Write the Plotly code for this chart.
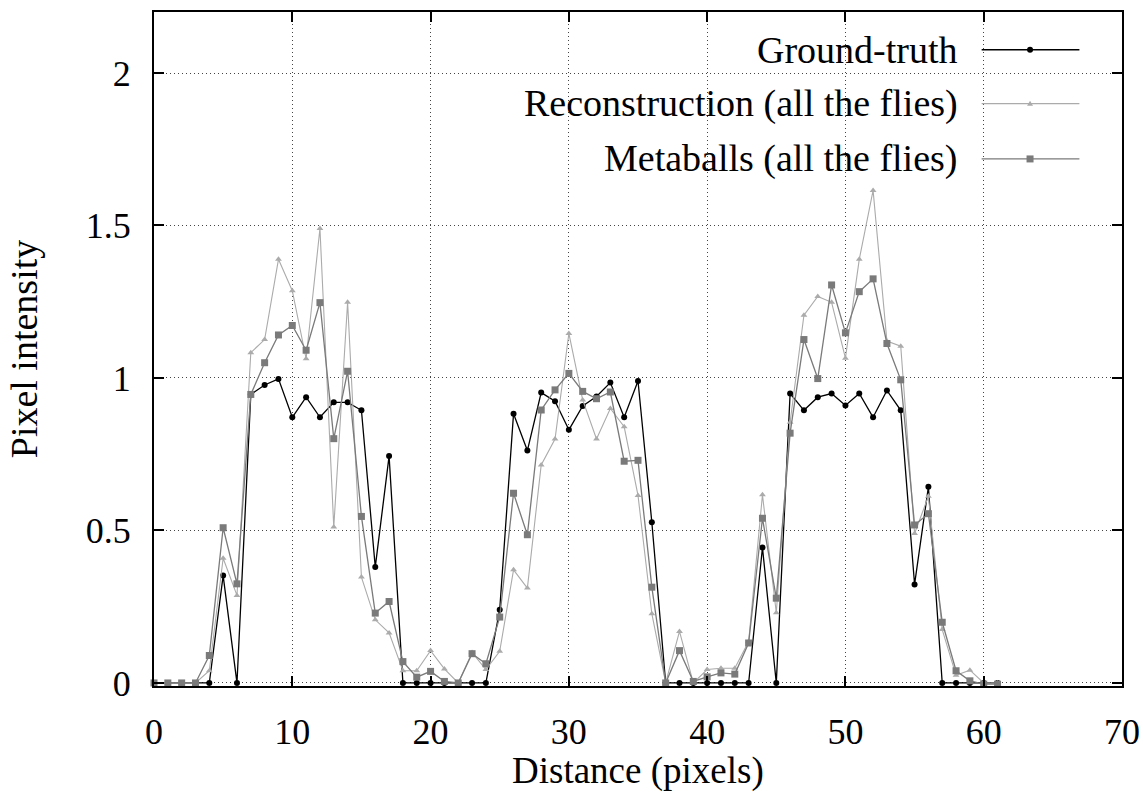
import plotly.graph_objects as go

# ---- data ----
distance = list(range(62))

ground_truth = [0, 0, 0, 0, 0, 0.352, 0,
                0.946, 0.977, 0.997, 0.871, 0.937, 0.871, 0.92, 0.92, 0.894, 0.38, 0.744,
                0, 0, 0, 0, 0, 0, 0,
                0.24, 0.883, 0.762, 0.952, 0.924, 0.83, 0.908, 0.939, 0.985, 0.871, 0.99, 0.527,
                0, 0, 0, 0, 0, 0, 0,
                0.444, 0,
                0.949, 0.894, 0.937, 0.949, 0.91, 0.949, 0.871, 0.959, 0.894, 0.323, 0.643,
                0, 0, 0, 0, 0]

reconstruction = [0, 0, 0, 0, 0.04, 0.409, 0.287, 1.083, 1.126, 1.389,
                  1.286, 1.063, 1.49, 0.511, 1.248, 0.347, 0.207, 0.164, 0.04, 0.04,
                  0.106, 0.046, 0, 0.1, 0.044, 0.104, 0.371, 0.311, 0.715, 0.8,
                  1.146, 0.928, 0.8, 0.9, 0.84, 0.615, 0.227, 0, 0.169, 0,
                  0.044, 0.048, 0.048, 0.136, 0.617, 0.23, 0.855, 1.206, 1.267, 1.248,
                  1.065, 1.389, 1.615, 1.121, 1.104, 0.49, 0.612, 0.175, 0.025, 0.042,
                  0, 0]

metaballs = [0, 0, 0, 0, 0.09, 0.509, 0.325, 0.946, 1.05, 1.141,
             1.172, 1.091, 1.247, 0.801, 1.022, 0.546, 0.229, 0.267, 0.07, 0.019,
             0.038, 0.005, 0, 0.096, 0.063, 0.216, 0.622, 0.486, 0.895, 0.961,
             1.015, 0.956, 0.932, 0.954, 0.727, 0.73, 0.314, 0, 0.106, 0.005,
             0.02, 0.033, 0.029, 0.131, 0.54, 0.278, 0.819, 1.126, 0.998, 1.305,
             1.148, 1.283, 1.325, 1.113, 0.994, 0.518, 0.555, 0.199, 0.04, 0.007,
             -0.004, -0.004]

series_names = ["Ground-truth", "Reconstruction (all the flies)", "Metaballs (all the flies)"]
x_title = "Distance (pixels)"
y_title = "Pixel intensity"
x_ticks = [0, 10, 20, 30, 40, 50, 60, 70]
y_ticks = [0, 0.5, 1, 1.5, 2]
y_tick_text = ["0", "0.5", "1", "1.5", "2"]

# ---- styles ----
FONT = "Liberation Serif"
FS = 38
TICK_FS = 36
XT_FS = 37
GT_COLOR = "#000000"
REC_COLOR = "#ababab"
MB_COLOR = "#7a7a7a"

fig = go.Figure()
fig.add_trace(go.Scatter(x=distance, y=ground_truth, mode="lines+markers", name=series_names[0],
                         line=dict(color=GT_COLOR, width=1.3),
                         marker=dict(symbol="circle", size=6, color=GT_COLOR),
                         cliponaxis=False))
fig.add_trace(go.Scatter(x=distance, y=reconstruction, mode="lines+markers", name=series_names[1],
                         line=dict(color=REC_COLOR, width=1.1),
                         marker=dict(symbol="triangle-up", size=6, color=REC_COLOR),
                         cliponaxis=False))
fig.add_trace(go.Scatter(x=distance, y=metaballs, mode="lines+markers", name=series_names[2],
                         line=dict(color=MB_COLOR, width=1.3),
                         marker=dict(symbol="square", size=7, color=MB_COLOR),
                         cliponaxis=False))

axis_common = dict(
    showgrid=True, griddash="1px,3px", gridcolor="#444444", gridwidth=1,
    showline=True, linecolor="black", linewidth=2, mirror="ticks",
    ticks="inside", ticklen=10, tickwidth=1.5, tickcolor="black",
    tickfont=dict(family=FONT, size=TICK_FS, color="black"),
    zeroline=False, automargin=False,
)

fig.update_layout(
    width=1143, height=792,
    margin=dict(l=154, r=21, t=12, b=106),
    paper_bgcolor="white", plot_bgcolor="white",
    showlegend=False,
    font=dict(family=FONT, size=FS, color="black"),
    xaxis=dict(range=[0, 70], tickvals=x_ticks, ticktext=[str(v) for v in x_ticks],
               ticklabelstandoff=13, **axis_common),
    yaxis=dict(range=[-0.01, 2.2], tickvals=y_ticks, ticktext=y_tick_text,
               ticklabelstandoff=14,
               title=dict(text=y_title, font=dict(family=FONT, size=FS), standoff=36),
               **axis_common),
)

# x-axis title placed below the tick labels
fig.add_annotation(xref="paper", yref="paper", x=0.5, y=-0.1262, text=x_title,
                   showarrow=False, xanchor="center", yanchor="middle",
                   font=dict(family=FONT, size=XT_FS, color="black"))

# ---- key (text on the left, sample on the right, opaque box) ----
fig.add_shape(type="rect", xref="paper", yref="paper", x0=0.156, x1=0.978, y0=0.742, y1=1.0,
              fillcolor="white", line=dict(width=0), layer="between")

key_rows = [0.944, 0.864, 0.782]
key_colors = [GT_COLOR, REC_COLOR, MB_COLOR]
key_widths = [1.3, 1.1, 1.3]
text_x = 0.833
line_x0, line_x1, mark_x = 0.855, 0.956, 0.905
for name, yy, col, lw in zip(series_names, key_rows, key_colors, key_widths):
    fig.add_annotation(xref="paper", yref="paper", x=text_x, y=yy, text=name,
                       showarrow=False, xanchor="right", yanchor="middle",
                       font=dict(family=FONT, size=FS, color="black"))
    fig.add_shape(type="line", xref="paper", yref="paper", x0=line_x0, x1=line_x1, y0=yy, y1=yy,
                  line=dict(color=col, width=lw))

fig.add_shape(type="circle", xref="paper", yref="paper", xsizemode="pixel", ysizemode="pixel",
              xanchor=mark_x, yanchor=key_rows[0], x0=-3, x1=3, y0=-3, y1=3,
              fillcolor=GT_COLOR, line=dict(width=0))
fig.add_shape(type="path", xref="paper", yref="paper", xsizemode="pixel", ysizemode="pixel",
              xanchor=mark_x, yanchor=key_rows[1], path="M -3 -2 L 3 -2 L 0 3 Z",
              fillcolor=REC_COLOR, line=dict(width=0))
fig.add_shape(type="rect", xref="paper", yref="paper", xsizemode="pixel", ysizemode="pixel",
              xanchor=mark_x, yanchor=key_rows[2], x0=-3.5, x1=3.5, y0=-3.5, y1=3.5,
              fillcolor=MB_COLOR, line=dict(width=0))

fig.write_html("out.html", config={"displayModeBar": False},
               post_script="document.body.style.margin='0';document.body.style.overflow='hidden';")
